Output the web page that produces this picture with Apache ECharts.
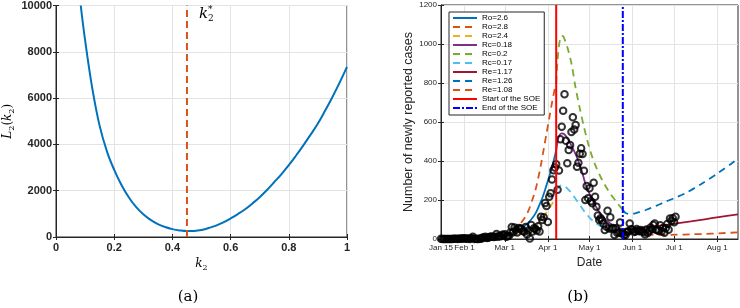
<!DOCTYPE html>
<html><head><meta charset="utf-8">
<script src="https://cdn.jsdelivr.net/npm/echarts@6/dist/echarts.min.js"></script>
<style>html,body{margin:0;padding:0;background:#fff}#c{width:740px;height:308px}</style>
</head><body><div id="c"></div><script>
// ---------- Panel (a) ----------
const k2Grid = [0.085,0.1,0.125,0.15,0.175,0.2,0.225,0.25,0.275,0.3,0.325,0.35,0.375,0.4,0.425,0.45,0.475,0.5,0.525,0.55,0.575,0.6,0.625,0.65,0.675,0.7,0.725,0.75,0.775,0.8,0.825,0.85,0.875,0.9,0.925,0.95,0.975,1.0];
const L2Values = [10000,8500,6400,4800,3700,2900,2250,1720,1300,980,740,560,430,340,285,258,262,300,390,490,630,800,990,1200,1450,1720,2030,2370,2720,3100,3520,3960,4420,4900,5460,6050,6680,7350];
const k2Star = 0.45;

// ---------- Panel (b) ----------  (day 0 = Jan 15)
const dateTickDays = [0,17,46,77,107,138,168,199];
const dateTickLabels = ['Jan 15','Feb 1','Mar 1','Apr 1','May 1','Jun 1','Jul 1','Aug 1'];
const dailyCases = [
 1,0,0,0,0,0,0,0,0,1,1,1,0,1,3,1,4,2,
 3,1,2,0,5,12,0,1,0,0,3,1,8,8,12,5,6,10,13,12,10,12,26,12,16,14,22,20,25,
 11,14,17,33,61,35,59,47,33,56,54,52,41,37,62,23,44,2,72,39,55,53,43,65,38,114,97,112,184,169,87,217,
 234,305,352,367,383,252,351,511,576,658,742,504,388,456,482,549,624,562,584,371,391,437,465,436,350,200,272,209,260,194,
 183,289,217,166,121,98,106,95,80,46,64,145,54,111,53,57,20,55,31,35,84,29,28,20,21,37,38,80,50,47,
 36,38,51,44,40,46,40,35,23,49,31,41,59,50,72,80,48,45,41,70,40,56,32,57,77,48,105,92,106,86,114
];
const ro26Days = [0,10,20,30,40,46,50,55,60,65,68,70,73,76,78,80,82,83];
const ro26Vals = [0.5,1,3,6,12,20,28,42,65,100,130,160,210,275,320,370,425,455];
const ro28Days = [0,10,20,30,40,46,50,55,60,63,66,68,70,72,74,76,78,80,82,83];
const ro28Vals = [0.5,1.5,4,9,18,25,38,62,105,145,205,250,310,380,460,540,620,700,770,800];
const ro24Days = [0,10,20,30,40,46,55,60,65,70,75,80,83];
const ro24Vals = [0.5,1,2,5,9,12,22,32,50,80,125,180,215];
const rc018Days = [83,84,85,87,89,92,95,98,101,104,107,110,113,116,119,122,125,128,131];
const rc018Vals = [455,500,528,542,536,505,465,418,360,285,232,188,150,120,97,80,68,58,50];
const rc02Days = [83,84,85,86,87,88,89,91,94,97,100,103,106,109,112,115,118,121,124,127,130,131];
const rc02Vals = [800,920,990,1030,1042,1040,1025,985,900,775,670,575,490,420,365,318,278,243,213,185,158,150];
const rc017Days = [83,85,87,89,92,95,98,101,104,107,110,113,116,119,122,125,128,131];
const rc017Vals = [250,268,275,272,252,226,196,165,135,110,90,74,62,52,45,38,33,30];
const re117Days = [131,140,150,160,170,180,190,200,214];
const re117Vals = [50,55,62,70,80,90,101,112,126];
const re126Days = [131,133,136,140,148,155,162,170,177,187,200,211,214];
const re126Vals = [150,133,128,132,150,170,192,215,238,280,340,396,415];
const re108Days = [131,140,150,160,170,180,190,200,214];
const re108Vals = [38,27,22,21,22,24,26,29,34];
const soeStartDay = 83;
const soeEndDay = 131;
const casesMax = 1200;

const zip = (xs, ys) => xs.map((x, i) => [x, ys[i]]);
const axisColor = '#262626';
const gridColor = '#e3e3e3';
const sans = 'Liberation Sans, Arial, sans-serif';
const serif = 'DejaVu Serif, serif';
const plain = v => String(v);

function modelSeries(name, days, vals, color, dash) {
  return {
    name, type: 'line', xAxisIndex: 2, yAxisIndex: 2, data: zip(days, vals),
    symbol: 'none', smooth: 0.3, z: 2,
    lineStyle: { color, width: 1.8, type: dash ? [7, 5] : 'solid' },
    itemStyle: { color }
  };
}

const tickCommon = { inside: true, length: 3, lineStyle: { color: axisColor } };

const option = {
  animation: false,
  backgroundColor: '#fff',
  grid: [
    { left: 56, top: 5, width: 291, height: 232, show: true, borderColor: axisColor, borderWidth: 1, containLabel: false },
    { left: 441, top: 5, width: 297, height: 234, show: true, borderColor: axisColor, borderWidth: 1, containLabel: false }
  ],
  xAxis: [
    { type: 'value', gridIndex: 0, min: 0, max: 1, interval: 0.2,
      name: '{i|k}{s|2}', nameLocation: 'middle', nameGap: 19,
      nameTextStyle: { rich: { i: { fontFamily: serif, fontStyle: 'italic', fontSize: 12, lineHeight: 16, color: '#000' }, s: { fontFamily: serif, fontSize: 8, verticalAlign: 'bottom', lineHeight: 9, color: '#000' } } },
      axisLine: { lineStyle: { color: axisColor } }, axisTick: tickCommon,
      axisLabel: { fontSize: 11, fontWeight: 'bold', color: axisColor, margin: 5, fontFamily: sans, formatter: plain },
      splitLine: { show: true, lineStyle: { color: gridColor } } },
    { type: 'value', gridIndex: 0, min: 0, max: 1, interval: 0.2, position: 'top',
      axisLine: { show: false }, axisTick: tickCommon, axisLabel: { show: false }, splitLine: { show: false } },
    { type: 'value', gridIndex: 1, min: 0, max: 214,
      name: 'Date', nameLocation: 'middle', nameGap: 15,
      nameTextStyle: { fontSize: 12, color: axisColor, fontFamily: sans },
      axisLine: { lineStyle: { color: axisColor } },
      axisTick: Object.assign({ customValues: dateTickDays }, tickCommon),
      axisLabel: { customValues: dateTickDays, fontSize: 8, color: axisColor, margin: 5, fontFamily: sans,
        formatter: v => dateTickLabels[dateTickDays.indexOf(v)] || '' },
      splitLine: { show: true, lineStyle: { color: gridColor } } },
    { type: 'value', gridIndex: 1, min: 0, max: 214, position: 'top',
      axisLine: { show: false }, axisTick: Object.assign({ customValues: dateTickDays }, tickCommon),
      axisLabel: { show: false }, splitLine: { show: false } }
  ],
  yAxis: [
    { type: 'value', gridIndex: 0, min: 0, max: 10000, interval: 2000,
      name: '{i|L}{s|2}{n|(}{i|k}{s|2}{n|)}', nameLocation: 'middle', nameGap: 40,
      nameTextStyle: { rich: {
        i: { fontFamily: serif, fontStyle: 'italic', fontSize: 12, lineHeight: 16, color: '#000' },
        s: { fontFamily: serif, fontSize: 8, verticalAlign: 'bottom', lineHeight: 9, color: '#000' },
        n: { fontFamily: serif, fontSize: 12, lineHeight: 16, color: '#000' } } },
      axisLine: { lineStyle: { color: axisColor } }, axisTick: tickCommon,
      axisLabel: { fontSize: 11, fontWeight: 'bold', color: axisColor, margin: 4, fontFamily: sans, formatter: plain },
      splitLine: { show: true, lineStyle: { color: gridColor } } },
    { type: 'value', gridIndex: 0, min: 0, max: 10000, interval: 2000, position: 'right',
      axisLine: { show: false }, axisTick: tickCommon, axisLabel: { show: false }, splitLine: { show: false } },
    { type: 'value', gridIndex: 1, min: 0, max: casesMax, interval: 200,
      name: 'Number of newly reported cases', nameLocation: 'middle', nameGap: 22,
      nameTextStyle: { fontSize: 12.5, color: axisColor, fontFamily: sans },
      axisLine: { lineStyle: { color: axisColor } }, axisTick: tickCommon,
      axisLabel: { fontSize: 8, color: axisColor, margin: 4, fontFamily: sans, formatter: plain },
      splitLine: { show: true, lineStyle: { color: gridColor } } },
    { type: 'value', gridIndex: 1, min: 0, max: casesMax, interval: 200, position: 'right',
      axisLine: { show: false }, axisTick: tickCommon, axisLabel: { show: false }, splitLine: { show: false } }
  ],
  legend: {
    left: 449, top: 12, orient: 'vertical', selectedMode: false,
    backgroundColor: '#fff', borderColor: axisColor, borderWidth: 1, borderRadius: 0,
    padding: [2, 4, 3, 3], itemGap: 1, itemWidth: 24, itemHeight: 8,
    itemStyle: { opacity: 0 },
    textStyle: { fontSize: 8, lineHeight: 8, color: '#000', fontFamily: sans },
    data: ['Ro=2.6','Ro=2.8','Ro=2.4','Rc=0.18','Rc=0.2','Rc=0.17','Re=1.17','Re=1.26','Re=1.08','Start of the SOE','End of the SOE']
  },
  graphic: [
    { type: 'text', x: 188, y: 297, style: { text: '(a)', fontFamily: serif, fontSize: 15, fill: '#000', align: 'center', verticalAlign: 'middle' } },
    { type: 'text', x: 578, y: 297, style: { text: '(b)', fontFamily: serif, fontSize: 15, fill: '#000', align: 'center', verticalAlign: 'middle' } }
  ],
  series: [
    { name: 'L2', type: 'line', xAxisIndex: 0, yAxisIndex: 0, data: zip(k2Grid, L2Values),
      symbol: 'none', smooth: 0.4, lineStyle: { color: '#0072BD', width: 2 } },
    { name: 'k2star', type: 'line', xAxisIndex: 0, yAxisIndex: 0, data: [[k2Star, 0], [k2Star, 10000]],
      symbol: 'none', lineStyle: { color: '#D95319', width: 2, type: [7, 4] },
      endLabel: { show: true, offset: [4, 9], formatter: '{k|k}{st|*}{sb|2}',
        rich: { k: { fontFamily: serif, fontStyle: 'italic', fontSize: 15, color: '#000', lineHeight: 18 },
                st: { fontFamily: serif, fontSize: 9, color: '#000', verticalAlign: 'top', width: 0, lineHeight: 10 },
                sb: { fontFamily: serif, fontSize: 9, color: '#000', verticalAlign: 'bottom', lineHeight: 10 } } } },
    modelSeries('Ro=2.6', ro26Days, ro26Vals, '#0072BD', false),
    modelSeries('Ro=2.8', ro28Days, ro28Vals, '#D95319', true),
    modelSeries('Ro=2.4', ro24Days, ro24Vals, '#EDB120', true),
    modelSeries('Rc=0.18', rc018Days, rc018Vals, '#7E2F8E', false),
    modelSeries('Rc=0.2', rc02Days, rc02Vals, '#77AC30', true),
    modelSeries('Rc=0.17', rc017Days, rc017Vals, '#4DBEEE', true),
    modelSeries('Re=1.17', re117Days, re117Vals, '#A2142F', false),
    modelSeries('Re=1.26', re126Days, re126Vals, '#0072BD', true),
    modelSeries('Re=1.08', re108Days, re108Vals, '#D95319', true),
    { name: 'cases', type: 'scatter', xAxisIndex: 2, yAxisIndex: 2, z: 3,
      data: dailyCases.map((v, i) => [i, v]), symbol: 'circle', symbolSize: 6.5,
      itemStyle: { color: 'rgba(0,0,0,0)', borderColor: '#000', borderWidth: 2 } },
    { name: 'Start of the SOE', type: 'line', xAxisIndex: 2, yAxisIndex: 2, z: 4,
      data: [[soeStartDay, 0], [soeStartDay, casesMax]], symbol: 'none',
      lineStyle: { color: '#FF0000', width: 2 }, itemStyle: { color: '#FF0000' } },
    { name: 'End of the SOE', type: 'line', xAxisIndex: 2, yAxisIndex: 2, z: 4,
      data: [[soeEndDay, 0], [soeEndDay, casesMax]], symbol: 'none',
      lineStyle: { color: '#0000FF', width: 2, type: [7, 2, 2, 2] }, itemStyle: { color: '#0000FF' } }
  ]
};
const chart = echarts.init(document.getElementById('c'));
chart.setOption(option);
</script></body></html>
